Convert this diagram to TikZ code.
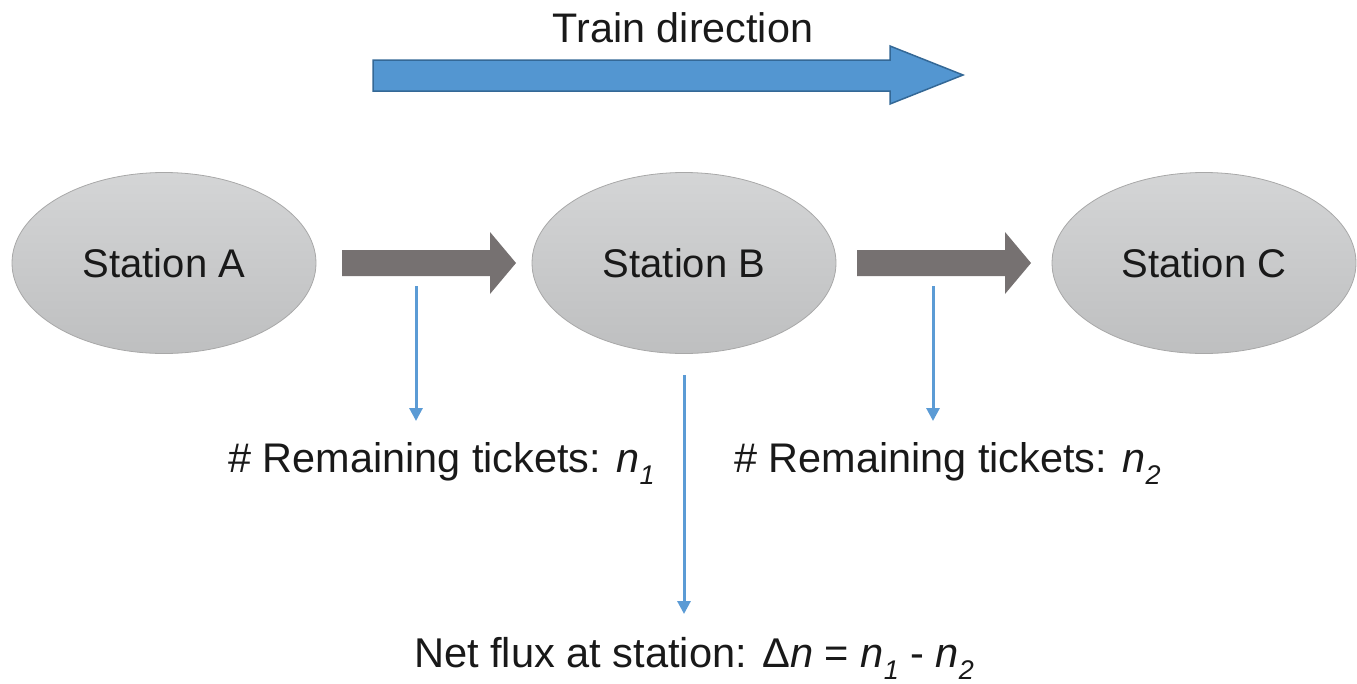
\documentclass[tikz,border=0pt]{standalone}
\usepackage{fontspec}
\setmainfont{Liberation Sans}
\usetikzlibrary{shapes.geometric,arrows.meta}
\definecolor{elltop}{RGB}{212,213,214}
\definecolor{ellbot}{RGB}{190,191,192}
\definecolor{elledge}{RGB}{168,168,168}
\definecolor{grayarrow}{RGB}{118,113,113}
\definecolor{bigblue}{RGB}{83,150,209}
\definecolor{bigblueedge}{RGB}{52,104,150}
\definecolor{thinblue}{RGB}{91,155,213}
\tikzset{
  station/.style={ellipse, minimum width=304pt, minimum height=181pt, inner sep=0pt,
    draw=elledge, line width=0.8pt, top color=elltop, bottom color=ellbot,
    font=\fontsize{40pt}{48pt}\selectfont, text=black!90},
  lbl/.style={text=black!90, inner sep=0pt, anchor=base},
  flow/.style={fill=grayarrow, draw=none},
  drop/.style={draw=thinblue, line width=3pt, -{Triangle[width=13pt,length=13pt]}}
}
\newcommand{\nsub}[1]{\textit{n}\raisebox{-0.3em}{\fontsize{27pt}{30pt}\selectfont\textit{#1}}}
\begin{document}
\begin{tikzpicture}[x=1pt,y=-1pt]
\useasboundingbox (0,0) rectangle (1357,683);
% stations
\node[station] (A) at (164,263) {Station A};
\node[station] (B) at (684,263) {Station B};
\node[station] (C) at (1204,263) {Station C};
% train direction
\node[lbl, font=\fontsize{41.3pt}{48pt}\selectfont] (td) at (683,42) {Train direction};
\draw[fill=bigblue, draw=bigblueedge, line width=1.5pt]
  (373,60) -- (890,60) -- (890,46) -- (963,75) -- (890,104) -- (890,91) -- (373,91) -- cycle;
% grey flow arrows
\coordinate (f1) at (342,263);
\coordinate (f2) at (857,263);
\fill[flow] (f1) ++(0,-13) -- ++(148,0) -- ++(0,-18) -- ++(26,31) -- ++(-26,31) -- ++(0,-18) -- ++(-148,0) -- cycle;
\fill[flow] (f2) ++(0,-13) -- ++(148,0) -- ++(0,-18) -- ++(26,31) -- ++(-26,31) -- ++(0,-18) -- ++(-148,0) -- cycle;
% labels
\node[lbl, font=\fontsize{41.4pt}{48pt}\selectfont] (r1) at (441.5,472) {\# Remaining tickets: \nsub{1}};
\node[lbl, font=\fontsize{41.4pt}{48pt}\selectfont] (r2) at (947.5,472) {\# Remaining tickets: \nsub{2}};
\node[lbl, font=\fontsize{41.6pt}{48pt}\selectfont] (nf) at (694,667) {Net flux at station: Δ\textit{n} = \nsub{1} - \nsub{2}};
% drop arrows
\coordinate (d1s) at (416,286);
\coordinate (d1e) at (416,421);
\coordinate (d2s) at (933,286);
\coordinate (d2e) at (933,421);
\coordinate (d3s) at (684,375);
\coordinate (d3e) at (684,614);
\draw[drop] (d1s) -- (d1e);
\draw[drop] (d2s) -- (d2e);
\draw[drop] (d3s) -- (d3e);
\end{tikzpicture}
\end{document}
